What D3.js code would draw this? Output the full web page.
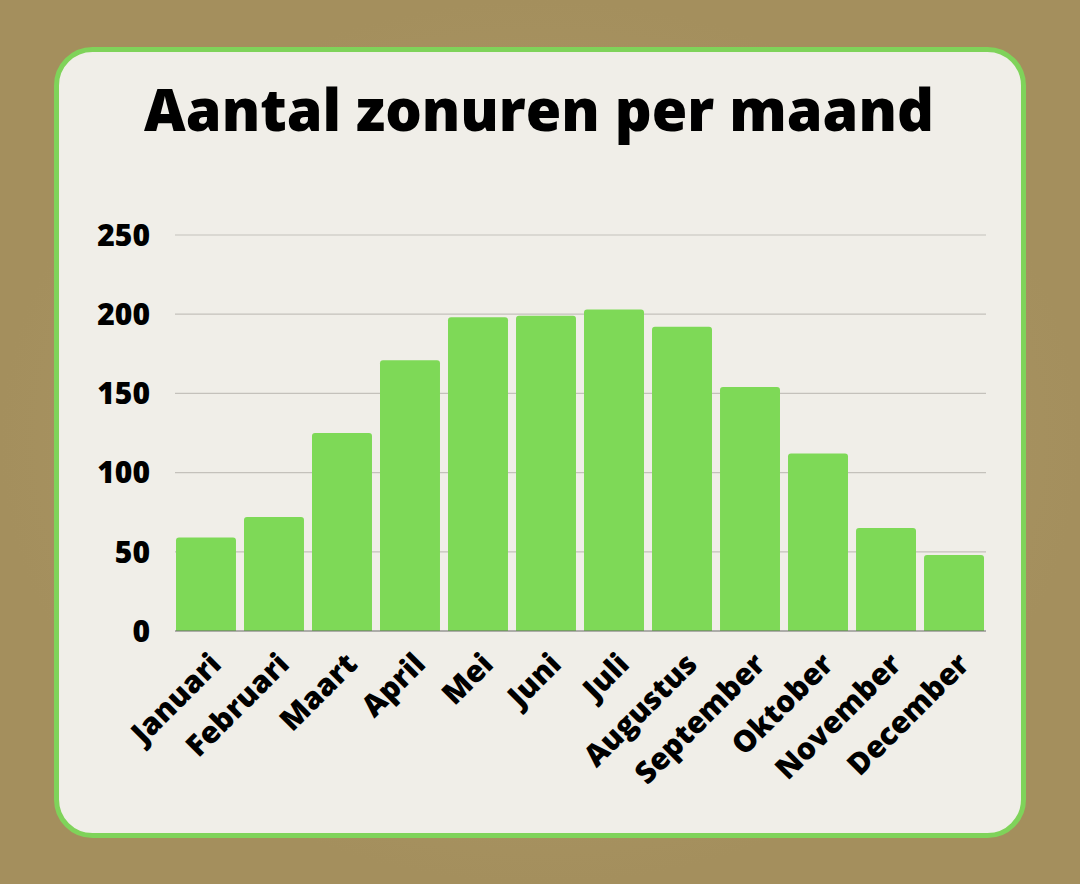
<!DOCTYPE html>
<meta charset="utf-8">
<script src="https://d3js.org/d3.v7.min.js"></script>
<style>
  body { margin: 0; background: #a89463; }
</style>
<div id="chart"></div>
<script>
  // data
  const months = ["Januari", "Februari", "Maart", "April", "Mei", "Juni",
                  "Juli", "Augustus", "September", "Oktober", "November", "December"];
  const hours = [59, 72, 125, 171, 198, 199, 203, 192, 154, 112, 65, 48];
  const yTicks = [0, 50, 100, 150, 200, 250];

  const W = 1080, H = 884;
  const svg = d3.select("#chart").append("svg")
      .attr("width", W).attr("height", H);

  // background, slightly mottled
  const defs = svg.append("defs");
  const grad = defs.append("radialGradient").attr("id", "bg");
  grad.append("stop").attr("offset", "0%").attr("stop-color", "#b19d6c");
  grad.append("stop").attr("offset", "100%").attr("stop-color", "#a48f5d");
  svg.append("rect").attr("width", W).attr("height", H).attr("fill", "url(#bg)");

  // card
  svg.append("rect")
      .attr("x", 56.5).attr("y", 49.5)
      .attr("width", 967).attr("height", 786)
      .attr("rx", 36)
      .attr("fill", "#f0eee8")
      .attr("stroke", "#7fd35a")
      .attr("stroke-width", 5);

  svg.append("text")
      .attr("x", 539).attr("y", 131)
      .attr("text-anchor", "middle")
      .attr("font-family", "'Open Sans'")
      .attr("font-weight", 800)
      .attr("font-size", 57.5)
      .attr("fill", "#000")
      .text("Aantal zonuren per maand");

  const margin = {left: 176, right: 96, top: 235, bottom: 253};
  const x = d3.scaleBand()
      .domain(months)
      .range([margin.left, W - margin.right])
      .paddingInner(0.118)
      .paddingOuter(0);
  const y = d3.scaleLinear()
      .domain([0, 250])
      .range([H - margin.bottom, margin.top]);

  // gridlines
  svg.append("g")
    .selectAll("line")
    .data(yTicks.slice(1))
    .join("line")
      .attr("x1", 175).attr("x2", 986)
      .attr("y1", d => y(d)).attr("y2", d => y(d))
      .attr("stroke", "#c4c1bb")
      .attr("stroke-width", 1.2);

  // y labels
  svg.append("g")
    .selectAll("text")
    .data(yTicks)
    .join("text")
      .attr("x", 150)
      .attr("y", d => y(d))
      .attr("dy", "0.36em")
      .attr("text-anchor", "end")
      .attr("font-family", "'Open Sans'")
      .attr("font-weight", 800)
      .attr("font-size", 30)
      .text(d => d);

  // bars with rounded top corners
  const r = 3;
  svg.append("g")
    .selectAll("path")
    .data(months)
    .join("path")
      .attr("fill", "#7ed957")
      .attr("d", (m, i) => {
        const x0 = x(m), w = x.bandwidth(), y0 = y(hours[i]), yb = y(0);
        return `M${x0},${yb}V${y0 + r}Q${x0},${y0} ${x0 + r},${y0}` +
               `H${x0 + w - r}Q${x0 + w},${y0} ${x0 + w},${y0 + r}V${yb}Z`;
      });

  // baseline
  svg.append("line")
      .attr("x1", 175).attr("x2", 986)
      .attr("y1", y(0)).attr("y2", y(0))
      .attr("stroke", "#6b6b6b")
      .attr("stroke-width", 1.2);

  // x labels
  svg.append("g")
    .selectAll("text")
    .data(months)
    .join("text")
      .attr("transform", m => `translate(${x(m) + x.bandwidth() / 2 + 17},${y(0) + 35}) rotate(-45)`)
      .attr("text-anchor", "end")
      .attr("font-family", "'Open Sans'")
      .attr("font-weight", 800)
      .attr("font-size", 30)
      .text(m => m);
</script>
